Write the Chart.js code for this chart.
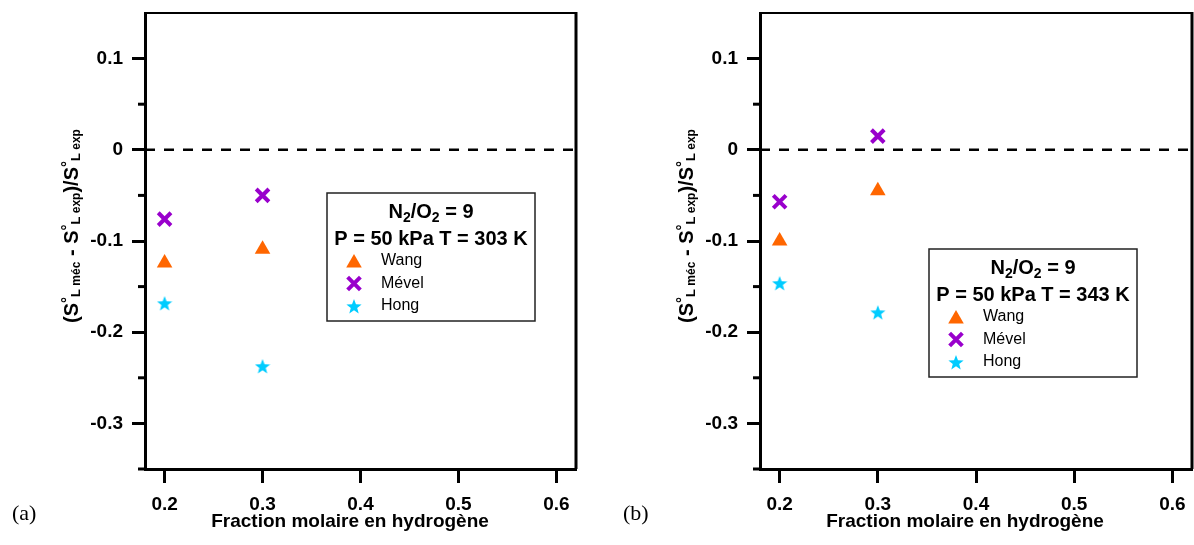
<!DOCTYPE html>
<html>
<head>
<meta charset="utf-8">
<script src="https://cdn.jsdelivr.net/npm/chart.js@4/dist/chart.umd.min.js"></script>
<style>
  html, body { margin: 0; padding: 0; background: #fff; overflow: hidden; }
  #wrap { position: relative; width: 1194px; height: 545px; overflow: hidden; }
  canvas { position: absolute; top: 0; display: block; }
  #chartA { left: 0; }
  #chartB { left: 600px; }
</style>
</head>
<body>
<div id="wrap">
  <canvas id="chartA" width="600" height="545"></canvas>
  <canvas id="chartB" width="620" height="545"></canvas>
</div>
<script>
// valeurs
const fractionsH2 = [0.2, 0.3]
const wangA = [-0.124, -0.109]
const mevelA = [-0.076, -0.050]
const hongA = [-0.168, -0.237]
const wangB = [-0.100, -0.045]
const mevelB = [-0.057, 0.015]
const hongB = [-0.146, -0.178]
const seriesNames = ['Wang', 'Mével', 'Hong']
const xTicks = [0.2, 0.3, 0.4, 0.5, 0.6]
const yTicks = [-0.35, -0.3, -0.25, -0.2, -0.15, -0.1, -0.05, 0, 0.05, 0.1]
const xRange = [0.18, 0.62]
const yRange = [-0.35, 0.15]
const zeroLine = [0, 0]

Chart.defaults.font.family = '"Liberation Sans", Arial, sans-serif'
Chart.defaults.color = '#000'

const ORANGE = '#FF6600'
const VIOLET = '#9900CC'
const CYAN = '#00CCFF'

// étoile pleine (pas dispo dans Chart.js)
function makeStar(size, color) {
    const c = document.createElement('canvas')
    c.width = size
    c.height = size
    const g = c.getContext('2d')
    const R = size / 2, r = R * 0.42
    g.beginPath()
    for (let i = 0; i < 10; i++) {
        const a = -Math.PI / 2 + i * Math.PI / 5
        const rr = i % 2 ? r : R
        g.lineTo(size / 2 + rr * Math.cos(a), size / 2 + 1 + rr * Math.sin(a))
    }
    g.closePath()
    g.fillStyle = color
    g.fill()
    return c
}
const star = makeStar(16, CYAN)

const isMajor = v => Math.abs(Math.round(v * 20)) % 2 === 0
const fmt = v => String(Math.round(v * 10) / 10)

const pts = (xs, ys) => xs.map((x, i) => ({ x, y: ys[i] }))

const markers = [
    { pointStyle: 'triangle', radius: 9, fill: ORANGE, stroke: ORANGE, borderWidth: 0 },
    { pointStyle: 'crossRot', radius: 9, fill: VIOLET, stroke: VIOLET, borderWidth: 4 },
    { pointStyle: star, radius: 8, fill: CYAN, stroke: CYAN, borderWidth: 0 }
]

// texte avec indices / exposants
function drawRich(ctx, segs, x, y) {
    let w = 0
    segs.forEach(s => { ctx.font = s.f; s.w = ctx.measureText(s.t).width; w += s.w })
    let cx = x - w / 2
    ctx.textAlign = 'left'
    ctx.textBaseline = 'alphabetic'
    segs.forEach(s => {
        ctx.font = s.f
        ctx.fillText(s.t, cx, y + (s.dy || 0))
        cx += s.w
    })
}

const B20 = 'bold 20px "Liberation Sans", Arial'
const B14 = 'bold 14px "Liberation Sans", Arial'
const B19 = 'bold 19px "Liberation Sans", Arial'

const decoPlugin = {
    id: 'deco',
    afterDraw(chart, args, opts) {
        const ctx = chart.ctx
        const a = chart.chartArea
        const ys = chart.scales.y
        ctx.save()
        ctx.strokeStyle = '#000'
        ctx.fillStyle = '#000'

        // cadre haut et droit
        ctx.lineWidth = 2
        ctx.beginPath(); ctx.moveTo(a.left, a.top); ctx.lineTo(a.right, a.top); ctx.stroke()
        ctx.lineWidth = 3
        ctx.beginPath(); ctx.moveTo(a.right, a.top - 1); ctx.lineTo(a.right, a.bottom); ctx.stroke()

        // petites graduations
        ys.ticks.forEach(t => {
            if (isMajor(t.value)) return
            const py = ys.getPixelForValue(t.value)
            ctx.beginPath(); ctx.moveTo(a.left - 7, py); ctx.lineTo(a.left, py); ctx.stroke()
        })

        // --- légende ---
        const bx = opts.boxX, by = opts.boxY, bw = 208, bh = 128
        ctx.fillStyle = '#fff'
        ctx.fillRect(bx, by, bw, bh)
        ctx.lineWidth = 1.5
        ctx.strokeStyle = '#222'
        ctx.strokeRect(bx, by, bw, bh)
        ctx.fillStyle = '#000'
        drawRich(ctx, [
            { t: 'N', f: B20 }, { t: '2', f: B14, dy: 4 }, { t: '/O', f: B20 },
            { t: '2', f: B14, dy: 4 }, { t: ' = 9', f: B20 }
        ], bx + bw / 2, by + 25)
        drawRich(ctx, [{ t: 'P = 50 kPa T = ' + opts.temp + ' K', f: B20 }], bx + bw / 2, by + 52)
        seriesNames.forEach((name, i) => {
            const m = markers[i]
            const py = by + 68 + i * 22.5
            ctx.fillStyle = m.fill
            ctx.strokeStyle = m.stroke
            ctx.lineWidth = m.borderWidth
            Chart.helpers.drawPoint(ctx, { pointStyle: m.pointStyle, radius: m.radius, rotation: 0, borderWidth: m.borderWidth }, bx + 27, py + (i === 0 ? 2 : 0))
            ctx.fillStyle = '#000'
            ctx.font = '16px "Liberation Sans", Arial'
            ctx.textAlign = 'left'
            ctx.textBaseline = 'middle'
            ctx.fillText(name, bx + 54, py)
        })

        // titre axe x
        ctx.fillStyle = '#000'
        ctx.font = B19
        ctx.textAlign = 'center'
        ctx.textBaseline = 'alphabetic'
        ctx.fillText('Fraction molaire en hydrogène', a.left + 205, 527)

        // titre axe y (tourné)
        ctx.save()
        ctx.translate(a.left - 67, 226)
        ctx.rotate(-Math.PI / 2)
        const sup = { t: '°', f: 'bold 15px "Liberation Sans", Arial', dy: -6 }
        const L = { t: 'L', f: 'bold 13px "Liberation Sans", Arial', dy: 2 }
        const sub = t => ({ t, f: 'bold 12px "Liberation Sans", Arial', dy: 2 })
        drawRich(ctx, [
            { t: '(S', f: B20 }, sup, L, sub(' méc'),
            { t: ' - S', f: B20 }, sup, L, sub(' exp'),
            { t: ')/S', f: B20 }, sup, L, sub(' exp')
        ], 0, 0)
        ctx.restore()

        // (a) / (b)
        ctx.font = '22px "Liberation Serif", "Times New Roman", serif'
        ctx.textAlign = 'left'
        ctx.fillText(opts.label, opts.labelX, 520)
        ctx.restore()
    }
}

function makeChart(id, wang, mevel, hong, pad, deco) {
    const datasets = [wang, mevel, hong].map((vals, i) => ({
        label: seriesNames[i],
        data: pts(fractionsH2, vals),
        pointStyle: markers[i].pointStyle,
        pointRadius: markers[i].radius,
        backgroundColor: markers[i].fill,
        borderColor: markers[i].stroke,
        pointBorderWidth: markers[i].borderWidth,
        showLine: false
    }))
    datasets.push({
        label: 'zero',
        type: 'line',
        data: pts(xRange, zeroLine),
        borderColor: '#000',
        borderWidth: 2.5,
        borderDash: [10, 9],
        pointRadius: 0,
        fill: false
    })

    const chart = new Chart(document.getElementById(id), {
        type: 'scatter',
        data: { datasets },
        options: {
            responsive: false,
            animation: false,
            events: [],
            layout: { padding: pad },
            plugins: { legend: { display: false }, tooltip: { enabled: false }, deco },
            scales: {
                x: {
                    type: 'linear',
                    min: xRange[0], max: xRange[1],
                    afterBuildTicks: s => { s.ticks = xTicks.map(v => ({ value: v })) },
                    afterFit: s => { s.height = 76; s.paddingLeft = 0; s.paddingRight = 0 },
                    grid: { drawOnChartArea: false, tickLength: 14, tickWidth: 3, tickColor: '#000' },
                    border: { color: '#000', width: 3 },
                    ticks: { color: '#000', font: { size: 19, weight: 'bold' }, padding: 10, maxRotation: 0, autoSkip: false, callback: v => v.toFixed(1) }
                },
                y: {
                    type: 'linear',
                    min: yRange[0], max: yRange[1],
                    afterBuildTicks: s => { s.ticks = yTicks.map(v => ({ value: v })) },
                    afterFit: s => { s.width = 70; s.paddingTop = 0; s.paddingBottom = 0 },
                    grid: {
                        drawOnChartArea: false, tickLength: 13, tickWidth: 3,
                        tickColor: c => (c.tick && isMajor(c.tick.value)) ? '#000' : 'rgba(0,0,0,0)'
                    },
                    border: { color: '#000', width: 3 },
                    ticks: { color: '#000', font: { size: 19, weight: 'bold' }, padding: 9, autoSkip: false, callback: v => isMajor(v) ? fmt(v) : '' }
                }
            }
        },
        plugins: [decoPlugin]
    })

    // recale le bord droit de la zone de tracé
    for (let k = 0; k < 3; k++) {
        const diff = chart.chartArea.right - deco.right
        if (Math.abs(diff) < 0.5) break
        chart.options.layout.padding.right = Math.max(0, chart.options.layout.padding.right + diff)
        chart.update()
    }
    return chart
}

makeChart('chartA', wangA, mevelA, hongA,
    { left: 75, right: 23.5, top: 13, bottom: 0 },
    { boxX: 327, boxY: 193, temp: '303', label: '(a)', labelX: 12, right: 576 })
makeChart('chartB', wangB, mevelB, hongB,
    { left: 90, right: 28, top: 13, bottom: 0 },
    { boxX: 329, boxY: 249, temp: '343', label: '(b)', labelX: 23, right: 592 })
</script>
</body>
</html>
